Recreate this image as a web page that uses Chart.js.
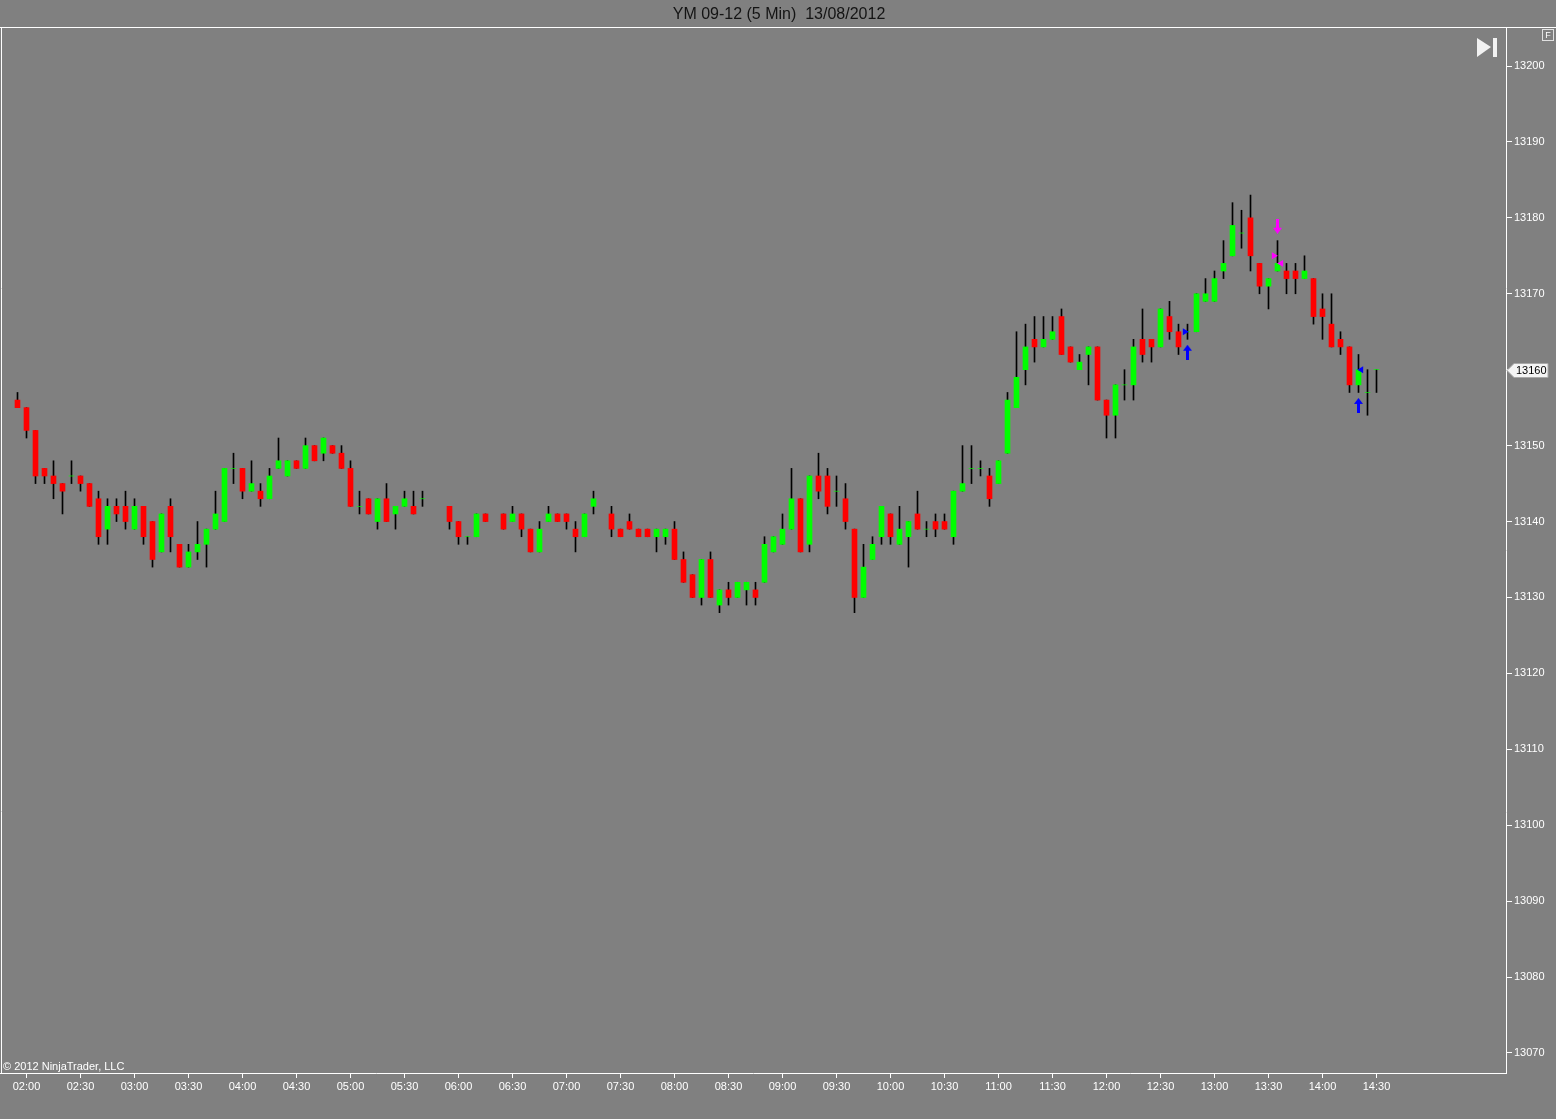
<!DOCTYPE html>
<html>
<head>
<meta charset="utf-8">
<title>YM 09-12 (5 Min) 13/08/2012</title>
<script src="https://cdn.jsdelivr.net/npm/chart.js@4.4.0/dist/chart.umd.min.js"></script>
<style>
    html, body { margin: 0; padding: 0; background: #808080; overflow: hidden; }
    canvas { display: block; }
</style>
</head>
<body>
<canvas id="chart" width="1556" height="1119"></canvas>
<script>
// 5 minute bars, first bar is 01:55, last one 14:30 (null = no bar drawn)
const opens = [
    13156,13155,13152,13147,13146,13145,13146,13146,13145,13143,
    13139,13142,13142,13139,13142,13140,13136,13142,13137,13134,
    13136,13137,13139,13140,13147,13147,13144,13144,13143,13147,
    13146,13148,13147,13150,13149,13150,13149,13147,13142,13143,
    13140,13143,13141,13142,13142,13143,null,null,13142,13140,
    13138,13138,13141,null,13141,13140,13141,13139,13136,13140,
    13141,13141,13139,13138,13142,null,13141,13139,13140,13139,
    13139,13138,13138,13139,13135,13133,13130,13135,13129,13131,
    13130,13131,13131,13132,13136,13137,13139,13143,13137,13146,
    13146,13144,13143,13139,13130,13135,13138,13141,13137,13138,
    13141,13139,13140,13140,13138,13144,13147,13147,13146,13145,
    13149,13155,13160,13164,13163,13164,13167,13163,13160,13162,
    13163,13156,13154,13158,13158,13164,13164,13163,13167,13165,
    13165,13165,13169,13169,13173,13175,13178,13180,13174,13171,
    13173,13173,13173,13172,13172,13168,13166,13164,13163,13158,
    13157,13160
];
const highs = [
    13157,13155,13152,13147,13148,13145,13148,13146,13145,13144,
    13143,13143,13144,13143,13142,13140,13141,13143,13137,13137,
    13140,13139,13144,13147,13149,13147,13148,13145,13147,13151,
    13148,13148,13151,13150,13151,13150,13150,13148,13144,13143,
    13143,13145,13142,13144,13144,13144,null,null,13142,13140,
    13138,13141,13141,null,13141,13142,13141,13139,13140,13142,
    13141,13141,13140,13141,13144,null,13142,13139,13141,13139,
    13139,13139,13139,13140,13136,13133,13135,13136,13131,13132,
    13132,13132,13132,13138,13138,13141,13147,13143,13146,13149,
    13147,13146,13145,13139,13137,13138,13142,13141,13142,13140,
    13144,13140,13141,13141,13144,13150,13150,13148,13147,13148,
    13157,13165,13166,13167,13167,13167,13168,13163,13162,13163,
    13163,13156,13158,13160,13164,13168,13164,13168,13169,13166,
    13166,13170,13172,13173,13177,13182,13181,13183,13174,13172,
    13177,13174,13174,13175,13172,13170,13170,13165,13163,13162,
    13160,13160
];
const lows = [
    13155,13151,13145,13145,13143,13141,13145,13144,13142,13137,
    13137,13140,13139,13139,13137,13134,13136,13136,13134,13134,
    13135,13134,13139,13140,13145,13143,13144,13142,13143,13147,
    13146,13147,13147,13148,13148,13149,13147,13142,13141,13141,
    13139,13140,13139,13142,13141,13142,null,null,13139,13137,
    13137,13138,13140,null,13139,13140,13138,13136,13136,13140,
    13140,13139,13136,13138,13141,null,13138,13138,13139,13138,
    13138,13136,13137,13135,13132,13130,13129,13130,13128,13129,
    13130,13129,13129,13132,13136,13137,13139,13136,13136,13143,
    13141,13142,13139,13128,13130,13135,13137,13137,13137,13134,
    13139,13138,13138,13139,13137,13144,13145,13146,13142,13145,
    13149,13155,13158,13161,13163,13164,13162,13161,13160,13158,
    13156,13151,13151,13156,13156,13161,13161,13163,13164,13162,
    13164,13165,13169,13169,13172,13175,13176,13173,13170,13168,
    13173,13170,13170,13172,13166,13164,13163,13162,13157,13157,
    13154,13157
];
const closes = [
    13155,13152,13146,13146,13145,13144,13146,13145,13142,13138,
    13142,13141,13140,13142,13138,13135,13141,13138,13134,13136,
    13137,13139,13141,13147,13147,13144,13145,13143,13146,13148,
    13148,13147,13150,13148,13151,13149,13147,13142,13142,13141,
    13143,13140,13142,13143,13141,13143,null,null,13140,13138,
    13138,13141,13140,null,13139,13141,13139,13136,13139,13141,
    13140,13140,13138,13141,13143,null,13139,13138,13139,13138,
    13138,13139,13139,13135,13132,13130,13135,13130,13131,13130,
    13132,13132,13130,13137,13138,13139,13143,13136,13146,13144,
    13142,13144,13140,13130,13134,13137,13142,13138,13139,13140,
    13139,13139,13139,13139,13144,13145,13147,13147,13143,13148,
    13156,13159,13163,13163,13164,13165,13162,13161,13161,13163,
    13156,13154,13158,13158,13163,13162,13163,13168,13165,13163,
    13165,13170,13170,13172,13174,13179,13178,13175,13171,13172,
    13174,13172,13172,13173,13167,13167,13163,13163,13158,13160,
    13157,13160
];

const xTickLabels = ['02:00','02:30','03:00','03:30','04:00','04:30','05:00','05:30','06:00','06:30',
    '07:00','07:30','08:00','08:30','09:00','09:30','10:00','10:30','11:00','11:30',
    '12:00','12:30','13:00','13:30','14:00','14:30'];
const yTickValues = [13070,13080,13090,13100,13110,13120,13130,13140,13150,13160,13170,13180,13190,13200];

// trade markers (bar position, price)
const longArrowBars = [130, 149];
const longArrowPrices = [13162.3, 13155.3];
const shortArrowBars = [140];
const shortArrowPrices = [13178.9];
const buyFillBars = [129.7];
const buyFillPrices = [13165];
const sellFillBars = [149.3];
const sellFillPrices = [13160];
const shortFillBars = [139.6];
const shortFillPrices = [13175];
const coverFillBars = [140.4];
const coverFillPrices = [13174];

const UP = '#00ff00';
const DOWN = '#ff0000';
const FONT = "'Liberation Sans', Arial, sans-serif";

const wickData = [];
const bodyData = [];
const bodyColors = [];
for (let i = 0; i < opens.length; i++) {
    if (opens[i] === null) continue;
    wickData.push({ x: i, y: [lows[i], highs[i]] });
    bodyData.push({ x: i, y: [opens[i], closes[i]] });
    bodyColors.push(closes[i] >= opens[i] ? UP : DOWN);
}

const zip = (xs, ys) => xs.map((x, i) => ({ x: x, y: ys[i] }));

function makeArrow(color, up) {
    const c = document.createElement('canvas');
    c.width = 9;
    c.height = 15;
    const g = c.getContext('2d');
    g.fillStyle = color;
    g.beginPath();
    if (up) {
        g.moveTo(4.5, 0); g.lineTo(9, 6); g.lineTo(6, 6); g.lineTo(6, 15);
        g.lineTo(3, 15); g.lineTo(3, 6); g.lineTo(0, 6);
    } else {
        g.moveTo(4.5, 15); g.lineTo(9, 9); g.lineTo(6, 9); g.lineTo(6, 0);
        g.lineTo(3, 0); g.lineTo(3, 9); g.lineTo(0, 9);
    }
    g.closePath();
    g.fill();
    return c;
}

const lastIndex = closes.length - 1;

const decorations = {
    id: 'decorations',
    beforeDraw(chart) {
        const ctx = chart.ctx;
        ctx.save();
        ctx.fillStyle = '#808080';
        ctx.fillRect(0, 0, chart.width, chart.height);
        ctx.restore();
    },
    afterDraw(chart) {
        const ctx = chart.ctx;
        const a = chart.chartArea;
        const y = chart.scales.y;
        ctx.save();

        // frame
        ctx.strokeStyle = '#ffffff';
        ctx.lineWidth = 1;
        ctx.beginPath();
        ctx.moveTo(0, a.top + 0.5); ctx.lineTo(chart.width, a.top + 0.5);
        ctx.moveTo(1.5, a.top); ctx.lineTo(1.5, a.bottom);
        ctx.moveTo(0, a.bottom + 0.5); ctx.lineTo(a.right + 1, a.bottom + 0.5);
        ctx.moveTo(a.right + 0.5, a.top); ctx.lineTo(a.right + 0.5, a.bottom + 1);
        ctx.stroke();

        // copyright
        ctx.fillStyle = '#ffffff';
        ctx.font = '11px ' + FONT;
        ctx.textBaseline = 'alphabetic';
        ctx.textAlign = 'left';
        ctx.fillText('\u00a9 2012 NinjaTrader, LLC', 3, a.bottom - 3);

        // scroll-to-end button
        ctx.fillStyle = '#f2f2f2';
        ctx.beginPath();
        ctx.moveTo(1477, 38); ctx.lineTo(1491, 47); ctx.lineTo(1477, 57);
        ctx.closePath();
        ctx.fill();
        ctx.fillRect(1493, 38, 4, 19);

        // F box
        ctx.strokeStyle = '#e0e0e0';
        ctx.strokeRect(1542.5, 29.5, 11, 11);
        ctx.fillStyle = '#ffffff';
        ctx.font = '9px ' + FONT;
        ctx.textAlign = 'center';
        ctx.textBaseline = 'middle';
        ctx.fillText('F', 1548, 35.5);

        // last price tag
        const last = closes[lastIndex];
        const py = Math.round(y.getPixelForValue(last)) + 0.5;
        ctx.beginPath();
        ctx.moveTo(a.right + 1, py);
        ctx.lineTo(a.right + 8, py - 7);
        ctx.lineTo(1548, py - 7);
        ctx.lineTo(1548, py + 7);
        ctx.lineTo(a.right + 8, py + 7);
        ctx.closePath();
        ctx.fillStyle = '#f4f4f4';
        ctx.fill();
        ctx.strokeStyle = '#a8a8a8';
        ctx.stroke();
        ctx.fillStyle = '#000000';
        ctx.font = '11px ' + FONT;
        ctx.textAlign = 'left';
        ctx.fillText(String(last), 1516, py + 0.5);

        ctx.restore();
    }
};

const ctx = document.getElementById('chart').getContext('2d');

new Chart(ctx, {
    type: 'bar',
    data: {
        datasets: [
            {
                type: 'scatter',
                data: zip(longArrowBars, longArrowPrices),
                pointStyle: makeArrow('#0000ff', true),
                pointRadius: 7,
                order: -1,
            },
            {
                type: 'scatter',
                data: zip(shortArrowBars, shortArrowPrices),
                pointStyle: makeArrow('#ff00ff', false),
                pointRadius: 7,
                order: -1,
            },
            {
                type: 'scatter',
                data: zip(buyFillBars, buyFillPrices).concat(zip(sellFillBars, sellFillPrices)),
                pointStyle: 'triangle',
                rotation: [90, -90],
                pointRadius: 4,
                backgroundColor: '#0000ff',
                borderColor: '#0000ff',
                borderWidth: 0,
                order: -1,
            },
            {
                type: 'scatter',
                data: zip(shortFillBars, shortFillPrices).concat(zip(coverFillBars, coverFillPrices)),
                pointStyle: 'triangle',
                rotation: [90, -90],
                pointRadius: 4,
                backgroundColor: '#ff00ff',
                borderColor: '#ff00ff',
                borderWidth: 0,
                order: -1,
            },
            {
                label: 'body',
                data: bodyData,
                backgroundColor: bodyColors,
                borderWidth: 0,
                barThickness: 5,
                grouped: false,
                order: 0,
            },
            {
                label: 'wick',
                data: wickData,
                backgroundColor: '#000000',
                borderWidth: 0,
                barThickness: 1,
                grouped: false,
                order: 1,
            },
        ],
    },
    options: {
        responsive: false,
        animation: false,
        events: [],
        layout: { autoPadding: false, padding: { left: 2, right: 0, top: 0, bottom: 0 } },
        plugins: {
            legend: { display: false },
            tooltip: { enabled: false },
            title: {
                display: true,
                text: 'YM 09-12 (5 Min)  13/08/2012',
                color: '#141414',
                font: { family: FONT, size: 16, weight: 'normal', lineHeight: 1.125 },
                padding: { top: 6, bottom: 3 },
            },
        },
        scales: {
            x: {
                type: 'linear',
                offset: false,
                min: -15.5 / 9,
                max: -15.5 / 9 + 1504 / 9,
                grid: {
                    offset: false,
                    drawOnChartArea: false,
                    drawTicks: true,
                    tickLength: 5,
                    color: '#ffffff',
                    tickColor: '#ffffff',
                },
                border: { display: false },
                afterBuildTicks: scale => {
                    scale.ticks = xTickLabels.map((t, k) => ({ value: 1 + k * 6 }));
                },
                afterFit: scale => {
                    scale.height = 46;
                    scale.paddingLeft = 0;
                    scale.paddingRight = 0;
                },
                ticks: {
                    autoSkip: false,
                    maxRotation: 0,
                    color: '#ffffff',
                    padding: 2,
                    font: { family: FONT, size: 11 },
                    callback: (value, index) => xTickLabels[index],
                },
            },
            y: {
                position: 'right',
                beginAtZero: false,
                min: 13070 - 20 / 7.5923,
                max: 13200 + 39 / 7.5923,
                grid: {
                    drawOnChartArea: false,
                    drawTicks: true,
                    tickLength: 6,
                    color: '#ffffff',
                    tickColor: '#ffffff',
                },
                border: { display: false },
                afterBuildTicks: scale => {
                    scale.ticks = yTickValues.map(v => ({ value: v }));
                },
                afterFit: scale => {
                    scale.width = 50;
                    scale.paddingTop = 0;
                    scale.paddingBottom = 0;
                },
                ticks: {
                    color: '#ffffff',
                    padding: 2,
                    font: { family: FONT, size: 11 },
                    callback: value => String(value),
                },
            },
        },
    },
    plugins: [decorations],
});
</script>
</body>
</html>
